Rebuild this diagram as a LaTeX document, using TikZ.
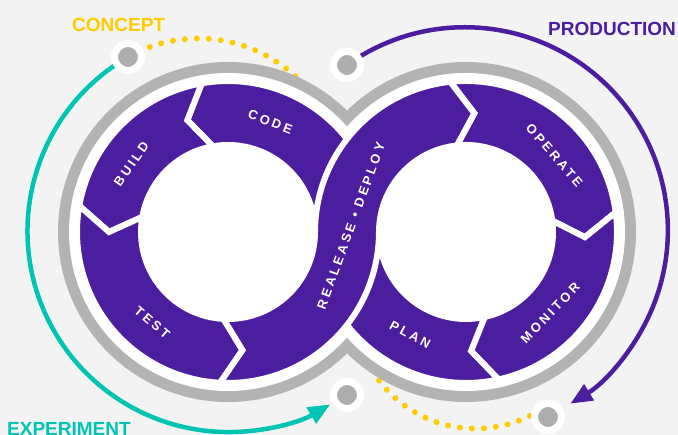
\documentclass[tikz,border=0pt]{standalone}
\usepackage{fontspec}
\setmainfont{Liberation Sans}
\newfontfamily\ringfont{Liberation Sans}[LetterSpace=22]
\usetikzlibrary{calc,arrows.meta,backgrounds}

\definecolor{devpurple}{HTML}{4C1D9F}
\definecolor{devteal}{HTML}{00C4B3}
\definecolor{devyellow}{HTML}{FFCC00}
\definecolor{ringgray}{HTML}{B3B3B3}
\definecolor{hubgray}{HTML}{ADADAD}
\definecolor{paper}{HTML}{F3F3F3}

% one arrow-shaped piece of a ring: from, to, notch tip, point tip
\newcommand{\ringseg}[4]{(#1:151pt) -- (#3:119pt) -- (#1:87pt)
    arc[start angle=#1, end angle=#2, radius=87pt] -- (#4:119pt) -- (#2:151pt)
    arc[start angle=#2, end angle=#1, radius=151pt] -- cycle}

\begin{document}
\begin{tikzpicture}[x=1pt, y=1pt]
    \tikzstyle{every node} = [align=center, inner sep=0pt]
    \tikzstyle{seg} = [fill=devpurple, draw=white, line width=6pt]
    \tikzstyle{phase} = [text=white, font=\ringfont\bfseries\fontsize{13}{13}\selectfont]
    \tikzstyle{stage} = [anchor=base west, font=\bfseries\fontsize{19}{19}\selectfont]
    \tikzstyle{hub} = [circle, fill=hubgray, draw=white, line width=7pt, minimum size=27pt]
    \tikzstyle{loop} = [line width=4.5pt, -{Triangle[length=22pt, width=18pt]}]
    \tikzstyle{trail} = [devyellow, line width=6pt, line cap=round, dash pattern=on 0pt off 12pt]

    \useasboundingbox (0,0) rectangle (678,435);
    \coordinate (L) at (228,203);
    \coordinate (R) at (466,203);

    % the four stops round the loop
    \node[hub] (concept) at (128,378) {};
    \node[hub] (production) at (347,370) {};
    \node[hub] (experiment) at (347,40) {};
    \node[hub] (feedback) at (548,18) {};
    \coordinate (planend) at (362,86);

    \begin{scope}[on background layer]
        \fill[paper] (0,0) rectangle (678,435);
        \draw[trail] (concept.center) arc[start angle=119.5, end angle=40, radius=143pt];
        \draw[trail] (planend) arc[start angle=-160, end angle=-58, radius=121pt];
        \draw[loop, devteal] (concept.center) arc[start angle=120, end angle=300.4, radius=201pt];
        \draw[loop, devpurple] (production.center) arc[start angle=125.5, end angle=-58.7, radius=203pt];

        % figure eight
        \fill[ringgray] (L) circle[radius=170pt] (R) circle[radius=170pt];
        \fill[white] (L) circle[radius=159pt] (R) circle[radius=159pt];

        \path[seg, shift={(L)}] \ringseg{-5}{100}{5}{110};
        \path[seg, shift={(R)}] \ringseg{-77.5}{-185}{-87.5}{-195};
        \path[seg, shift={(L)}] \ringseg{100}{170}{110}{180};
        \path[seg, shift={(L)}] \ringseg{170}{267}{180}{277};
        \path[seg, shift={(R)}] \ringseg{96}{7.5}{86}{-2.5};
        \path[seg, shift={(R)}] \ringseg{7.5}{-77.5}{-2.5}{-87.5};
        % release band crossing the middle
        \path[seg] ($(L)+(267:151pt)$) -- ($(L)+(277:119pt)$) -- ($(L)+(267:87pt)$)
            arc[start angle=267, end angle=360, radius=87pt]
            arc[start angle=180, end angle=96, radius=151pt]
            -- ($(R)+(86:119pt)$) -- ($(R)+(96:87pt)$)
            arc[start angle=96, end angle=180, radius=87pt]
            arc[start angle=0, end angle=-93, radius=151pt] -- cycle;
    \end{scope}

    \node[phase, rotate=-21] (code) at ($(L)+(69:118pt)$) {CODE};
    \node[phase, rotate=55] (build) at ($(L)+(145:118pt)$) {BUILD};
    \node[phase, rotate=-40] (test) at ($(L)+(230:118pt)$) {TEST};
    \node[phase, rotate=70] (release) at (351,209) {REALEASE • DEPLOY};
    \node[phase, rotate=-49] (operate) at ($(R)+(41:117pt)$) {OPERATE};
    \node[phase, rotate=46] (monitor) at ($(R)+(-44:117pt)$) {MONITOR};
    \node[phase, rotate=-28.5] (plan) at ($(R)+(241.5:117pt)$) {PLAN};

    \node[stage, text=devyellow] (conceptlabel) at (72,403) {CONCEPT};
    \node[stage, text=devpurple] (productionlabel) at (548,399) {PRODUCTION};
    \node[stage, text=devteal] (experimentlabel) at (7,-1) {EXPERIMENT};
\end{tikzpicture}
\end{document}
